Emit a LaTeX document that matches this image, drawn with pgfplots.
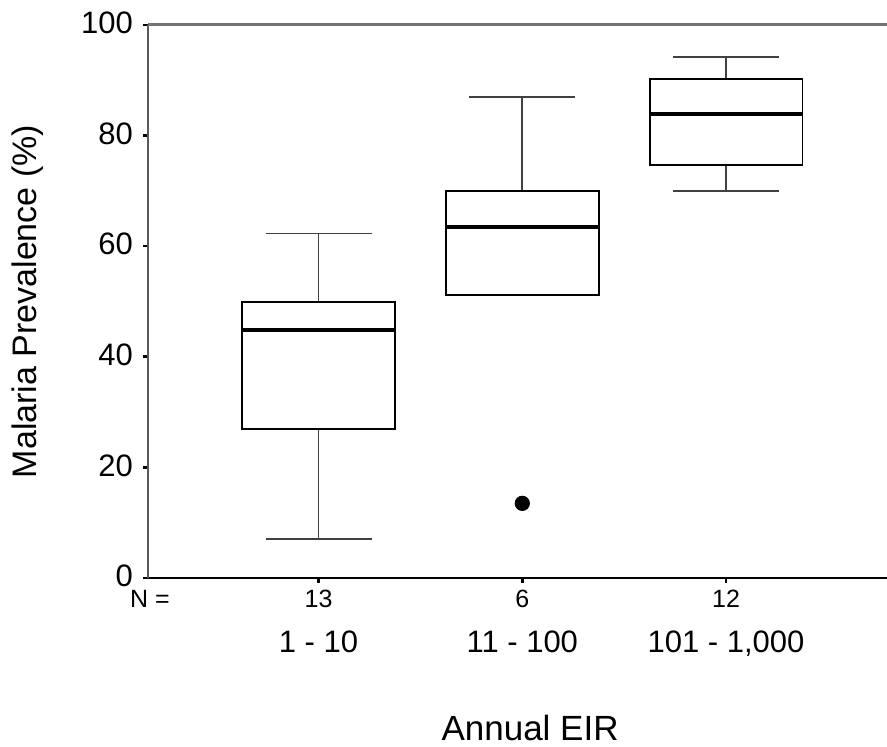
\documentclass[border=0pt]{standalone}
\usepackage{pgfplots}
\pgfplotsset{compat=1.18}
\usepgfplotslibrary{statistics}
\usepackage{fontspec}
\setmainfont{Liberation Sans}

\begin{document}
\begin{tikzpicture}
\begin{axis}[
  scale only axis, width=369.5pt, height=276.5pt,
  xmin=0.163, xmax=3.79, ymin=0, ymax=100,
  clip=false,
  axis x line*=bottom, axis y line*=left,
  axis line style={-},
  x axis line style={black, line width=1.1pt},
  y axis line style={black!65, line width=1pt},
  ytick={0,20,40,60,80,100}, xtick={1,2,3},
  xticklabels={{1 - 10},{11 - 100},{101 - 1,000}},
  tick align=outside, major tick length=2.5pt,
  tick style={line width=1.3pt, black},
  /pgf/number format/assume math mode=true,
  yticklabel style={font=\fontsize{15.5}{18}\selectfont, xshift=-1.5pt, yshift=1pt},
  xticklabel style={font=\fontsize{15.5}{18}\selectfont, anchor=base, yshift=-35pt},
  ylabel={Malaria Prevalence (\%)},
  ylabel style={at={(axis description cs:0,0.5)}, anchor=center, yshift=60pt, font=\fontsize{17}{20}\selectfont},
  xlabel={Annual EIR},
  xlabel style={at={(axis description cs:0.517,0)}, anchor=base, yshift=-81.5pt, font=\fontsize{17.5}{20}\selectfont},
  boxplot/draw direction=y,
  boxplot/box extend=0.75,
  boxplot/whisker extend=0.52,
  boxplot/every box/.style={draw=black, line width=0.9pt, fill=white},
  boxplot/every whisker/.style={draw=black!75, line width=0.9pt},
  boxplot/every median/.style={draw=black, line width=2pt},
]
\addplot[black, mark=none, boxplot prepared={draw position=1,
  lower whisker=7.0, lower quartile=26.9, median=44.8,
  upper quartile=49.9, upper whisker=62.3}] coordinates {};
\addplot[black, mark=*, mark size=3.6pt, mark options={fill=black, draw=black},
  boxplot prepared={draw position=2,
  lower whisker=51.2, lower quartile=51.2, median=63.5,
  upper quartile=70.0, upper whisker=87.0}] coordinates {(0,13.5)};
\addplot[black, mark=none, boxplot prepared={draw position=3,
  lower whisker=70.0, lower quartile=74.7, median=83.9,
  upper quartile=90.2, upper whisker=94.2}] coordinates {};
\draw[black!55, line width=1.5pt] (rel axis cs:0,1) -- (rel axis cs:1,1);
\coordinate (ll) at (rel axis cs:0,0);
\coordinate (ur) at (rel axis cs:1,1);
\node[anchor=base, font=\fontsize{12.5}{14}\selectfont] at (axis cs:1,0) [yshift=-15pt] {13};
\node[anchor=base, font=\fontsize{12.5}{14}\selectfont] at (axis cs:2,0) [yshift=-15pt] {6};
\node[anchor=base, font=\fontsize{12.5}{14}\selectfont] at (axis cs:3,0) [yshift=-15pt] {12};
\node[anchor=base, font=\fontsize{12.5}{14}\selectfont] at (rel axis cs:0,0) [xshift=1pt, yshift=-15pt] {N =};
\end{axis}
\pgfresetboundingbox
\path ([xshift=-74pt,yshift=-84.5pt]ll) rectangle ([yshift=12.5pt]ur);
\end{tikzpicture}
\end{document}
